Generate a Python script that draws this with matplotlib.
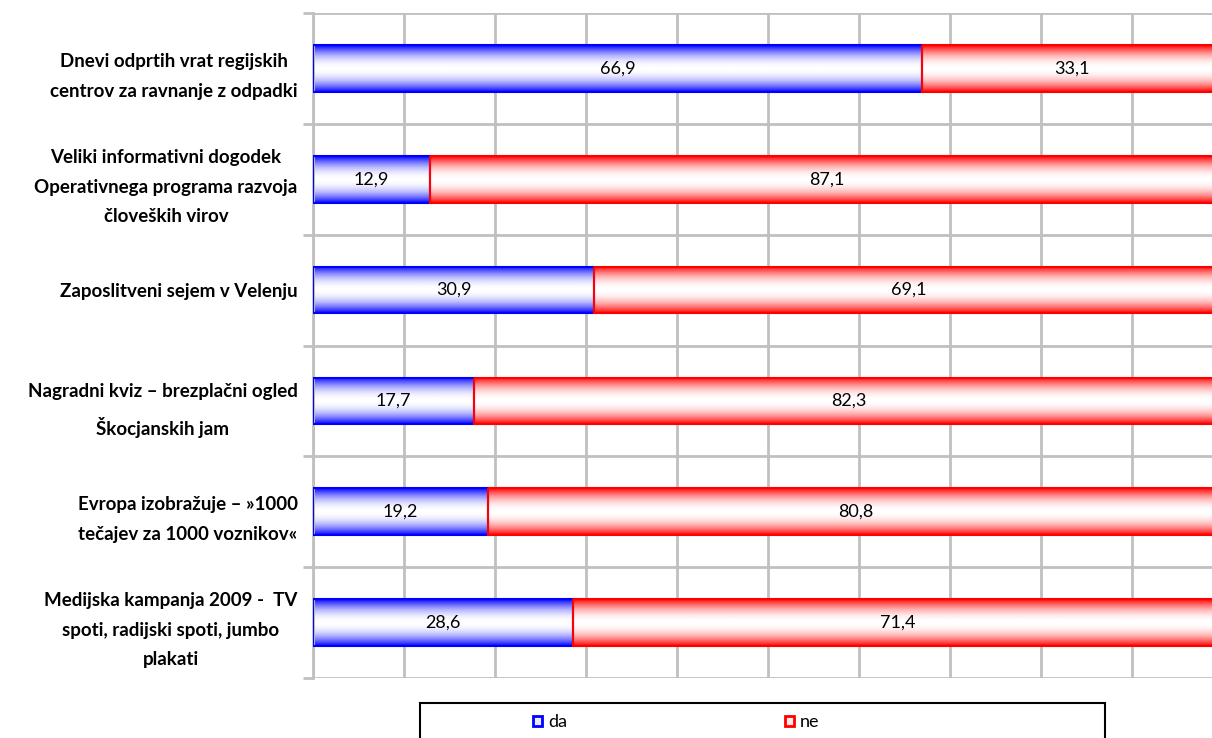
import numpy as np
import matplotlib
matplotlib.use('Agg')
import matplotlib.pyplot as plt
from matplotlib.patches import Rectangle
from matplotlib.colors import LinearSegmentedColormap

categories = [
    'Dnevi odprtih vrat regijskih\ncentrov za ravnanje z odpadki',
    'Veliki informativni dogodek\nOperativnega programa razvoja\nčloveških virov',
    'Zaposlitveni sejem v Velenju',
    'Nagradni kviz – brezplačni ogled\nŠkocjanskih jam',
    'Evropa izobražuje – »1000\ntečajev za 1000 voznikov«',
    'Medijska kampanja 2009 -  TV\nspoti, radijski spoti, jumbo\nplakati',
]
da = [66.9, 12.9, 30.9, 17.7, 19.2, 28.6]
ne = [33.1, 87.1, 69.1, 82.3, 80.8, 71.4]
series_names = ['da', 'ne']
series_colors = ['#0000ff', '#ff0000']

plt.rcParams['font.family'] = ['Lato', 'DejaVu Sans']

fig = plt.figure(figsize=(12.12, 7.38), dpi=100)
ax = fig.add_axes([313 / 1212, 60 / 738, 910 / 1212, 665 / 738])

# vertical gradient: colour at the edges, white in the middle
t = np.linspace(-1, 1, 200)
w = np.abs(t) ** 2.0
grad = w.reshape(-1, 1)

bar_h = 0.42
ypos = np.arange(len(categories))
for vals, lefts, col in [(da, [0] * len(da), series_colors[0]),
                         (ne, da, series_colors[1])]:
    cmap = LinearSegmentedColormap.from_list('g', ['white', col])
    for y, v, l in zip(ypos, vals, lefts):
        ax.imshow(grad, cmap=cmap, vmin=0, vmax=1, aspect='auto',
                  extent=(l, l + v, y + bar_h / 2, y - bar_h / 2),
                  interpolation='bilinear', zorder=2)
        ax.add_patch(Rectangle((l, y - bar_h / 2), v, bar_h, facecolor='none',
                               edgecolor=col, lw=1.5, zorder=3))
        ax.text(l + v / 2, y, f'{v:.1f}'.replace('.', ','), ha='center',
                va='center', fontsize=13, color='black', zorder=4)

ax.set_xlim(0, 100)
ax.set_ylim(len(categories) - 0.5, -0.5)
ax.set_xticks(np.arange(0, 101, 10))
ax.set_xticklabels([])
ax.tick_params(axis='x', length=0)
ax.set_yticks(ypos)
ax.set_yticklabels(categories, fontsize=13.5, fontweight='bold',
                   multialignment='center', linespacing=1.9)
ax.set_yticks(np.arange(-0.5, len(categories), 1), minor=True)
ax.tick_params(axis='y', which='major', length=0, pad=11)
ax.tick_params(axis='y', which='minor', length=7, color='#c0c0c0', width=2)
ax.grid(axis='x', which='major', color='#c0c0c0', lw=2, zorder=0)
ax.grid(axis='y', which='minor', color='#c0c0c0', lw=2, zorder=0)
for s in ['top', 'right', 'bottom']:
    ax.spines[s].set_visible(False)
ax.spines['left'].set_color('#c0c0c0')
ax.spines['left'].set_linewidth(2)
ax.set_axisbelow(True)

# legend box
fig.patches.append(Rectangle((420 / 1212, -0.03), 685 / 1212, 0.03 + 35 / 738,
                             transform=fig.transFigure, facecolor='white',
                             edgecolor='black', lw=1.5))
for name, col, x in zip(series_names, series_colors, [533, 785]):
    fig.patches.append(Rectangle((x / 1212, 12 / 738), 9 / 1212, 10 / 738,
                                 transform=fig.transFigure,
                                 facecolor='#e8e8ff' if name == 'da' else '#ffe8e8',
                                 edgecolor=col, lw=2))
    fig.text((x + 15) / 1212, 16 / 738, name, ha='left', va='center',
             fontsize=13)

fig.savefig('out.png', dpi=100)
